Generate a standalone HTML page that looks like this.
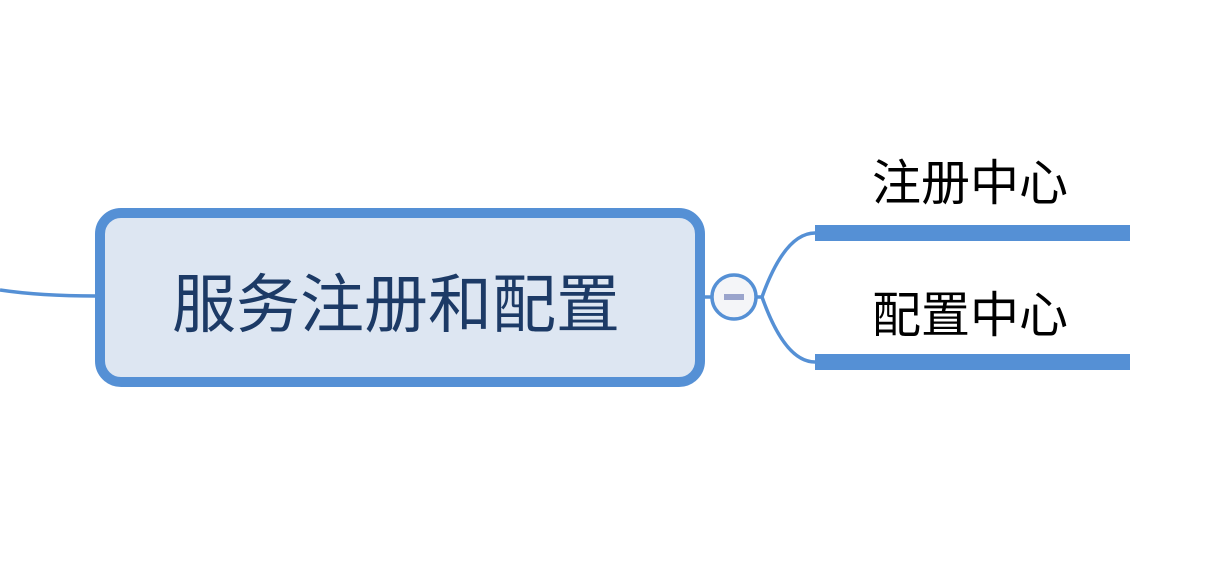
<!DOCTYPE html>
<html><head><meta charset="utf-8"><style>
html,body{margin:0;padding:0;background:#fff;}
body{width:1208px;height:562px;position:relative;overflow:hidden;font-family:"Liberation Sans","Noto Sans CJK SC",sans-serif;}
.box{position:absolute;left:95px;top:208px;width:590px;height:159px;border:10px solid #5590d5;border-radius:26px;background:#dde6f2;}
.t{position:absolute;white-space:nowrap;line-height:1;}
</style></head><body>
<svg width="1208" height="562" style="position:absolute;left:0;top:0">
<path d="M0 290 Q40 296 96 296" stroke="#5590d5" stroke-width="3.5" fill="none"/>
<line x1="704" y1="297" x2="712" y2="297" stroke="#5590d5" stroke-width="3.5"/>
<path d="M756 297 L762 297 Q785 233 815 233" stroke="#5590d5" stroke-width="3.5" fill="none"/>
<path d="M762 297 Q785 362 815 362" stroke="#5590d5" stroke-width="3.5" fill="none"/>
<circle cx="734" cy="297" r="22" fill="#f4f5f8" stroke="#5590d5" stroke-width="3.5"/>
<rect x="724" y="294" width="20" height="6" fill="#9aa4cc"/>
<rect x="815" y="225" width="315" height="16" fill="#5590d5"/>
<rect x="815" y="354" width="315" height="16" fill="#5590d5"/>
</svg>
<div class="box"></div>
<div class="t" style="left:172px;top:273px;font-size:64px;color:#1c3a66;">服务注册和配置</div>
<div class="t" style="left:872px;top:160px;font-size:49px;color:#000;">注册中心</div>
<div class="t" style="left:872px;top:292px;font-size:49px;color:#000;">配置中心</div>
</body></html>
